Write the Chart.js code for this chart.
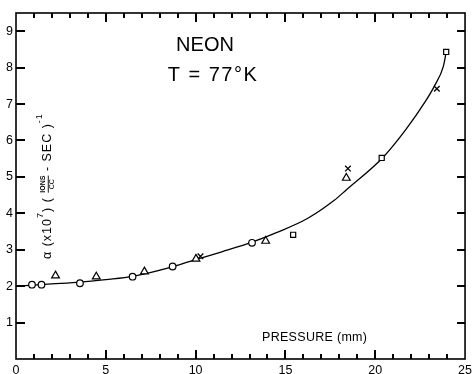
<!DOCTYPE html>
<html>
<head>
<meta charset="utf-8">
<script src="https://cdn.jsdelivr.net/npm/chart.js@4/dist/chart.umd.min.js"></script>
<style>
  html, body { margin: 0; padding: 0; background: #fff; }
  #wrap { width: 476px; height: 374px; }
</style>
</head>
<body>
<div id="wrap"><canvas id="chart" width="476" height="374"></canvas></div>
<script>
// Neon, T = 77 K : alpha vs pressure

const xTicks = [0, 5, 10, 15, 20, 25];
const yTicks = [1, 2, 3, 4, 5, 6, 7, 8, 9];

const circleX = [0.89, 1.42, 3.56, 6.49, 8.72, 13.14];
const circleY = [2.04, 2.04, 2.08, 2.26, 2.54, 3.19];

const triX = [2.2, 4.47, 7.15, 10.02, 13.9, 18.39];
const triY = [2.29, 2.26, 2.40, 2.75, 3.24, 4.97];

const crossX = [10.27, 18.48, 23.43];
const crossY = [2.82, 5.23, 7.42];

const squareX = [15.43, 20.36, 23.95];
const squareY = [3.41, 5.52, 8.43];

// fitted curve as drawn in the figure
const curveX = [0, 1, 2, 3.6, 5, 6.5, 8.7, 10, 11.5, 13.1, 14.5, 16.2, 17.7, 18.4, 20.4, 21.7, 22.8, 23.3, 23.8, 23.95];
const curveY = [2.0, 2.03, 2.06, 2.11, 2.18, 2.27, 2.53, 2.73, 2.95, 3.2, 3.47, 3.85, 4.35, 4.65, 5.52, 6.3, 7.08, 7.5, 8.05, 8.43];

function pts(xs, ys) {
  return xs.map(function(x, i) { return { x: x, y: ys[i] }; });
}

const FONT = "'Liberation Sans', Arial, sans-serif";

// inward tick marks on all four sides
const tickMarks = {
  id: "tickMarks",
  afterDraw: function(chart) {
    const c = chart.ctx;
    const a = chart.chartArea;
    const xs = chart.scales.x;
    const ys = chart.scales.y;
    c.save();
    c.fillStyle = "#000";
    for (let v = 1; v < 25; v++) {
      const px = Math.round(xs.getPixelForValue(v));
      const len = v % 5 === 0 ? 9 : 5;
      c.fillRect(px - 1, a.bottom - len, 2, len);
      c.fillRect(px - 1, a.top, 2, len);
    }
    for (let i = 0; i < yTicks.length; i++) {
      const py = Math.round(ys.getPixelForValue(yTicks[i]));
      c.fillRect(a.left, py - 1, 9, 2);
      c.fillRect(a.right - 8, py - 1, 8, 2);
    }
    c.strokeStyle = "#000";
    c.lineWidth = 1.6;
    c.strokeRect(a.left, a.top, a.right - a.left, a.bottom - a.top);
    c.restore();
  }
};

// free text: labels and the vertical axis title
const labels = {
  id: "labels",
  afterDraw: function(chart) {
    const c = chart.ctx;
    c.save();
    c.fillStyle = "#000";
    c.textAlign = "center";
    c.textBaseline = "middle";
    c.font = "20px " + FONT;
    c.fillText("NEON", 205, 45);
    c.letterSpacing = "1.5px";
    c.fillText("T = 77\u00B0K", 213, 75);

    c.letterSpacing = "0.3px";
    c.font = "12.5px " + FONT;
    c.textAlign = "left";
    c.fillText("PRESSURE (mm)", 262, 338);

    c.translate(48, 259);
    c.rotate(-Math.PI / 2);
    c.letterSpacing = "1px";
    let x = 0;
    function put(t, size, dy) {
      c.font = size + "px " + FONT;
      c.fillText(t, x, dy);
      x += c.measureText(t).width;
    }
    put("\u03B1 (x10", 12.5, 0);
    put("7", 9, -7);
    put(") ( ", 12.5, 0);
    c.letterSpacing = "0px";
    c.font = "bold 7px " + FONT;
    const fw = c.measureText("IONS").width;
    c.fillText("IONS", x, -4.5);
    c.font = "7px " + FONT;
    c.fillText("CC", x + (fw - c.measureText("CC").width) / 2, 4.5);
    c.fillRect(x, -0.2, fw, 0.9);
    x += fw;
    c.letterSpacing = "1px";
    put(" - SEC )", 12.5, 0);
    put("-1", 9, -8);
    c.restore();
  }
};

const ctx = document.getElementById("chart").getContext("2d");
new Chart(ctx, {
  type: "scatter",
  data: {
    datasets: [
      {
        label: "curve",
        type: "line",
        data: pts(curveX, curveY),
        borderColor: "#000",
        borderWidth: 1.3,
        pointRadius: 0,
        fill: false,
        cubicInterpolationMode: "monotone",
        order: 2
      },
      {
        label: "circles",
        data: pts(circleX, circleY),
        pointStyle: "circle",
        pointRadius: 3.3,
        borderColor: "#000",
        backgroundColor: "#fff",
        borderWidth: 1.2,
        order: 1
      },
      {
        label: "triangles",
        data: pts(triX, triY),
        pointStyle: "triangle",
        pointRadius: 4.5,
        borderColor: "#000",
        backgroundColor: "#fff",
        borderWidth: 1.2,
        order: 1
      },
      {
        label: "crosses",
        data: pts(crossX, crossY),
        pointStyle: "crossRot",
        pointRadius: 4,
        borderColor: "#000",
        borderWidth: 1.3,
        order: 1
      },
      {
        label: "squares",
        data: pts(squareX, squareY),
        pointStyle: "rect",
        pointRadius: 3.6,
        borderColor: "#000",
        backgroundColor: "#fff",
        borderWidth: 1.2,
        order: 1
      }
    ]
  },
  options: {
    responsive: false,
    animation: false,
    layout: { padding: { left: 0, right: 8, top: 13, bottom: 0 } },
    plugins: {
      legend: { display: false },
      tooltip: { enabled: false }
    },
    scales: {
      x: {
        type: "linear",
        min: 0,
        max: 25,
        afterFit: function(s) { s.height = 15; },
        afterBuildTicks: function(s) { s.ticks = xTicks.map(function(v) { return { value: v }; }); },
        grid: { display: false, drawTicks: false },
        border: { display: false },
        ticks: {
          padding: 4,
          color: "#000",
          maxRotation: 0,
          font: { family: FONT, size: 12.5 }
        }
      },
      y: {
        type: "linear",
        min: 0,
        max: 9.5,
        afterFit: function(s) { s.width = 16; },
        afterBuildTicks: function(s) { s.ticks = yTicks.map(function(v) { return { value: v }; }); },
        grid: { display: false, drawTicks: false },
        border: { display: false },
        ticks: {
          padding: 3,
          color: "#000",
          font: { family: FONT, size: 12.5 }
        }
      }
    }
  },
  plugins: [tickMarks, labels]
});
</script>
</body>
</html>
